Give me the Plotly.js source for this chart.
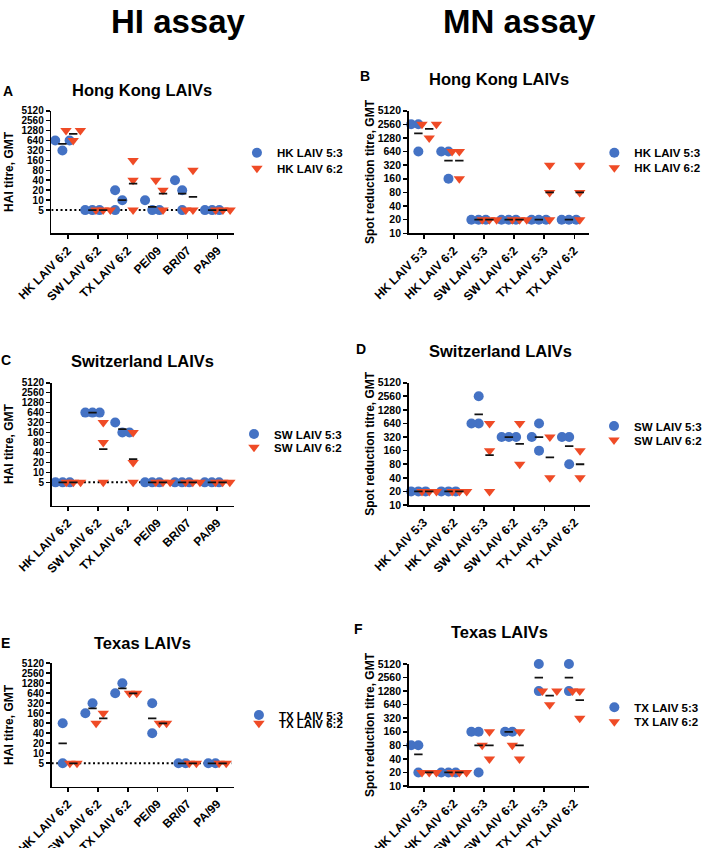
<!DOCTYPE html>
<html><head><meta charset="utf-8">
<script src="https://cdn.plot.ly/plotly-3.0.1.min.js"></script>
<style>html,body{margin:0;padding:0;background:#fff}#chart{width:707px;height:848px}</style>
</head><body><div id="chart"></div>
<script>
// ---------------- data ----------------
const HI_CATEGORIES = ['HK LAIV 6:2','SW LAIV 6:2','TX LAIV 6:2','PE/09','BR/07','PA/99'];
const MN_CATEGORIES = ['HK LAIV 5:3','HK LAIV 6:2','SW LAIV 5:3','SW LAIV 6:2','TX LAIV 5:3','TX LAIV 6:2'];
const HI_TICKS = [5,10,20,40,80,160,320,640,1280,2560,5120];
const MN_TICKS = [10,20,40,80,160,320,640,1280,2560,5120];
const HI_DETECTION_LIMIT = 5;

// one inner array per category, one titre per ferret
// Panel A – HI assay, Hong Kong LAIVs
const A_HK_LAIV_53 = [[320,640,640],[5,5,5],[10,5,20],[5,10,5],[20,40,5],[5,5,5]];
const A_HK_LAIV_62 = [[640,1280,1280],[5,5,5],[160,40,5],[20,40,5],[80,5,5],[5,5,5]];
// Panel B – MN assay, Hong Kong LAIVs
const B_HK_LAIV_53 = [[640,2560,2560],[160,640,640],[20,20,20],[20,20,20],[20,20,20],[20,20,20]];
const B_HK_LAIV_62 = [[1280,2560,2560],[160,640,640],[20,20,20],[20,20,20],[320,80,20],[320,80,20]];
// Panel C – HI assay, Switzerland LAIVs
const C_SW_LAIV_53 = [[5,5,5],[640,640,640],[160,320,160],[5,5,5],[5,5,5],[5,5,5]];
const C_SW_LAIV_62 = [[5,5,5],[320,80,5],[160,20,5],[5,5,5],[5,5,5],[5,5,5]];
// Panel D – MN assay, Switzerland LAIVs
const D_SW_LAIV_53 = [[20,20,20],[20,20,20],[2560,640,640],[320,320,320],[640,160,320],[80,320,320]];
const D_SW_LAIV_62 = [[20,20,20],[20,20,20],[640,160,20],[640,80],[320,40],[160,40]];
// Panel E – HI assay, Texas LAIVs
const E_TX_LAIV_53 = [[80,5],[320,160],[1280,640],[320,40],[5,5],[5,5]];
const E_TX_LAIV_62 = [[5,5],[160,80],[640,640],[80,80],[5,5],[5,5]];
// Panel F – MN assay, Texas LAIVs
const F_TX_LAIV_53 = [[20,80,80],[20,20,20],[20,160,160],[160,160],[5120,1280],[5120,1280]];
const F_TX_LAIV_62 = [[20,20,20],[20,20,20],[160,40,80],[160,40,80],[640,1280,1280],[320,1280,1280]];

const PANELS = [
  {letter:'A', title:'Hong Kong LAIVs', assay:'HI', names:['HK LAIV 5:3','HK LAIV 6:2'], data:[A_HK_LAIV_53, A_HK_LAIV_62]},
  {letter:'B', title:'Hong Kong LAIVs', assay:'MN', names:['HK LAIV 5:3','HK LAIV 6:2'], data:[B_HK_LAIV_53, B_HK_LAIV_62]},
  {letter:'C', title:'Switzerland LAIVs', assay:'HI', names:['SW LAIV 5:3','SW LAIV 6:2'], data:[C_SW_LAIV_53, C_SW_LAIV_62]},
  {letter:'D', title:'Switzerland LAIVs', assay:'MN', names:['SW LAIV 5:3','SW LAIV 6:2'], data:[D_SW_LAIV_53, D_SW_LAIV_62]},
  {letter:'E', title:'Texas LAIVs', assay:'HI', names:['TX LAIV 5:3','TX LAIV 6:2'], data:[E_TX_LAIV_53, E_TX_LAIV_62]},
  {letter:'F', title:'Texas LAIVs', assay:'MN', names:['TX LAIV 5:3','TX LAIV 6:2'], data:[F_TX_LAIV_53, F_TX_LAIV_62]}
];

// ---------------- layout constants (pixels) ----------------
const W = 707, H = 848;
const FONT = 'Liberation Sans, Arial, Helvetica, sans-serif';
const COLORS = ['#4472C4', '#EF4B26'];
const SYMBOLS = ['circle', 'triangle-down'];
const SIZES = [10, 10];
const GROUP_OFFSET = [-0.18, 0.18];
const SLOT_W = 0.24;
const MEAN_HALF = 0.14;
// plot area boxes: [left, right, top, bottom]
const BOX = [[52,237,110.7,233.2],[414,597,110.7,233.3],[52.3,236.7,382.7,505.5],[414,597.3,382.7,505],[52.3,236.7,663.3,786.5],[414,597,664,786]];
const XRANGE = {HI:[-0.55,5.55], MN:[-0.5,5.5]};
const YLOW = {HI:1, MN:10};
const LETTER_POS = [[8,91],[370,76],[6,360],[366,349],[6,643],[363,629]];
const TITLE_POS = [[144.3,90],[505,79],[144.3,360.7],[506.7,350.7],[144.7,642.7],[506,631.7]];
const LEGEND_POS = [[[240,152.7],[240,168.3]],[[602,152.7],[602,167.7]],[[237,434],[237,447.3]],[[602,426],[602,440]],[[242,715],[242,723.3]],[[602,707.3],[602,721.7]]];

function spreadSlots(values){
  if(values.every(v => v === values[0])) return values.map((_, i) => i - (values.length - 1) / 2);
  const placed = [], order = [0,-1,1,-2,2,-3,3];
  return values.map(v => {
    const slot = order.find(s => !placed.some(p => p.slot === s && Math.abs(Math.log2(p.v / v)) <= 1.01));
    placed.push({slot, v});
    return slot;
  });
}
function geoMean(vals){ return Math.exp(vals.reduce((s, v) => s + Math.log(v), 0) / vals.length); }

const traces = [];
const layout = {
  width: W, height: H, margin: {l:0, r:0, t:0, b:0},
  paper_bgcolor: '#fff', plot_bgcolor: 'rgba(0,0,0,0)', showlegend: true,
  font: {family: FONT, color: '#000'},
  annotations: [], hovermode: false
};
const ann = (text, px, py, size, extra) => Object.assign({
  text, x: px / W, y: 1 - py / H, xref: 'paper', yref: 'paper', showarrow: false,
  xanchor: 'center', yanchor: 'middle', font: {family: FONT, size, color: '#000', weight: 'bold'}
}, extra || {});

layout.annotations.push(ann('HI assay', 181, 22, 33));
layout.annotations.push(ann('MN assay', 526, 22, 33));

PANELS.forEach((p, i) => {
  const n = i + 1, sfx = n === 1 ? '' : String(n);
  const xa = 'x' + sfx, ya = 'y' + sfx;
  const cats = p.assay === 'HI' ? HI_CATEGORIES : MN_CATEGORIES;
  const ticks = p.assay === 'HI' ? HI_TICKS : MN_TICKS;
  const xr = XRANGE[p.assay];
  const [l, r, t, b] = BOX[i];

  if (p.assay === 'HI') {
    traces.push({type:'scatter', mode:'lines', x:[xr[0], xr[1] - 0.08], y:[HI_DETECTION_LIMIT, HI_DETECTION_LIMIT],
      xaxis:xa, yaxis:ya, showlegend:false, hoverinfo:'skip',
      line:{color:'#000', width:2, dash:'2px,2.6px'}});
  }
  const meanTraces = [];
  p.data.forEach((series, si) => {
    const xs = [], ys = [], mx = [], my = [];
    series.forEach((vals, ci) => {
      const slots = spreadSlots(vals);
      vals.forEach((v, k) => { xs.push(ci + GROUP_OFFSET[si] + slots[k] * SLOT_W); ys.push(v); });
      const g = geoMean(vals), c = ci + GROUP_OFFSET[si];
      mx.push(c - MEAN_HALF, c + MEAN_HALF, null); my.push(g, g, null);
    });
    const li = 2 * i + si + 1;
    const lname = li === 1 ? 'legend' : 'legend' + li;
    traces.push({type:'scatter', mode:'markers', x:xs, y:ys, xaxis:xa, yaxis:ya, name:p.names[si], legend:lname,
      cliponaxis:false, marker:{symbol:SYMBOLS[si], size:SIZES[si], color:COLORS[si], line:{width:0}}});
    meanTraces.push({type:'scatter', mode:'lines', x:mx, y:my, xaxis:xa, yaxis:ya, showlegend:false,
      hoverinfo:'skip', line:{color:'#111', width:1.8}});
    const [lx, ly] = LEGEND_POS[i][si];
    layout[lname] = {x: lx / W, y: 1 - ly / H, xanchor:'left', yanchor:'middle', xref:'paper', yref:'paper',
      bgcolor:'rgba(0,0,0,0)', borderwidth:0, font:{family:FONT, size:11.5, color:'#000', weight:'bold'}};
  });
  meanTraces.forEach(m => traces.push(m));

  layout['xaxis' + sfx] = {domain:[l / W, r / W], range:xr, anchor:ya, tickvals:cats.map((_, k) => k), ticktext:cats,
    tickangle:-45, showline:true, linewidth:1.6, linecolor:'#000', ticks:'outside', ticklen:4, tickwidth:1.6, tickcolor:'#000',
    showgrid:false, zeroline:false, fixedrange:true,
    tickfont:{family:FONT, size:12, color:'#000', weight:'bold'}};
  layout['yaxis' + sfx] = {domain:[1 - b / H, 1 - t / H], type:'log', range:[Math.log10(YLOW[p.assay]), Math.log10(5120)],
    anchor:xa, tickvals:ticks, ticktext:ticks.map(String), showline:true, linewidth:1.6, linecolor:'#000',
    ticks:'outside', ticklen:4, tickwidth:1.6, tickcolor:'#000', showgrid:false, zeroline:false, fixedrange:true,
    tickfont:{family:FONT, size:p.assay === 'HI' ? 10 : 10.5, color:'#000', weight:'bold'},
    title:{text: p.assay === 'HI' ? 'HAI titre, GMT' : 'Spot reduction titre, GMT',
      font:{family:FONT, size:12, color:'#000', weight:'bold'}, standoff: p.assay === 'HI' ? 5 : 0}};

  layout.annotations.push(ann(p.letter, LETTER_POS[i][0], LETTER_POS[i][1], 14));
  layout.annotations.push(ann(p.title, TITLE_POS[i][0], TITLE_POS[i][1], 16.5));
});

Plotly.newPlot('chart', traces, layout, {staticPlot:true, displayModeBar:false});
</script></body></html>
